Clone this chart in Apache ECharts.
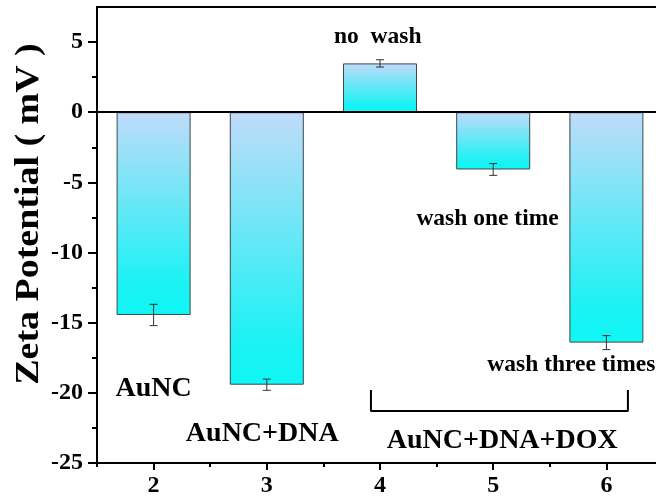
<!DOCTYPE html>
<html>
<head>
<meta charset="utf-8">
<script src="https://cdn.jsdelivr.net/npm/echarts@6/dist/echarts.min.js"></script>
<style>
html,body{margin:0;padding:0;background:#fff;}
#chart{width:656px;height:502px;}
</style>
</head>
<body>
<div id="chart"></div>
<script>
// ---- data ----
var categories = ['2', '3', '4', '5', '6'];
var zetaValues = [-14.45, -19.42, 3.48, -4.08, -16.42];
var zetaErrors = [0.76, 0.40, 0.26, 0.42, 0.50];
var yTickValues = [-25, -20, -15, -10, -5, 0, 5];
var yMinorTickValues = [-22.5, -17.5, -12.5, -7.5, -2.5, 2.5];
var yMin = -25, yMax = 7.5, yStep = 5;
var xMin = 1.5, xMax = 6.5;
var yAxisTitle = 'Zeta Potential ( mV )';
// condition annotations (small)
var condLabels = ['no  wash', 'wash one time', 'wash three times'];
var condX = [3.98, 4.95, 5.69];
var condY = [5.4, -7.6, -18.0];
// group annotations (large)
var groupLabels = ['AuNC', 'AuNC+DNA', 'AuNC+DNA+DOX'];
var groupX = [2.0, 2.96, 5.08];
var groupY = [-19.7, -22.9, -23.4];
// bracket under AuNC+DNA+DOX group
var bracketX = [3.92, 3.92, 6.19, 6.19];
var bracketY = [-19.8, -21.3, -21.3, -19.8];

var FONT = '"Liberation Serif", "Times New Roman", serif';

function pairs(xs, ys, names) {
  return xs.map(function (x, i) {
    var d = { value: [x, ys[i]] };
    if (names) d.name = names[i];
    return d;
  });
}

var chart = echarts.init(document.getElementById('chart'), null, { renderer: 'canvas' });

var textLabel = function (size) {
  return {
    show: true, position: 'inside', formatter: '{b}', opacity: 1,
    color: '#000', textBorderWidth: 0, fontFamily: FONT, fontWeight: 'bold', fontSize: size
  };
};

var option = {
  animation: false,
  backgroundColor: '#ffffff',
  grid: {
    left: 97, width: 566, top: 7, bottom: 39,
    outerBoundsMode: 'none', containLabel: false,
    show: true, borderColor: '#000', borderWidth: 2, backgroundColor: 'transparent'
  },
  xAxis: [
    {
      type: 'category', data: categories, position: 'bottom', boundaryGap: true,
      axisLine: { show: true, onZero: false, lineStyle: { color: '#000', width: 2 } },
      axisTick: { show: true, alignWithLabel: true, length: 7, lineStyle: { color: '#000', width: 2 } },
      axisLabel: { color: '#000', fontFamily: FONT, fontWeight: 'bold', fontSize: 24, margin: 11 },
      splitLine: { show: false }
    },
    {
      type: 'category', data: categories, position: 'bottom', boundaryGap: true,
      axisLine: { show: false, onZero: false },
      axisTick: { show: true, length: 4, lineStyle: { color: '#000', width: 2 } },
      axisLabel: { show: false },
      splitLine: { show: false }
    },
    {
      type: 'value', min: xMin, max: xMax, show: false, position: 'bottom'
    }
  ],
  yAxis: [
    {
      type: 'value', min: yMin, max: yMax, interval: yStep,
      axisLine: { show: true, onZero: false, lineStyle: { color: '#000', width: 2 } },
      axisTick: { show: true, length: 9, customValues: yTickValues, lineStyle: { color: '#000', width: 2 } },
      axisLabel: { customValues: yTickValues, color: '#000', fontFamily: FONT, fontWeight: 'bold', fontSize: 24, margin: 14 },
      splitLine: { show: false }
    },
    {
      type: 'value', min: yMin, max: yMax, interval: yStep, position: 'left',
      axisLine: { show: false, onZero: false },
      axisTick: { show: true, length: 5, customValues: yMinorTickValues, lineStyle: { color: '#000', width: 2 } },
      axisLabel: { show: false },
      splitLine: { show: false }
    }
  ],
  graphic: [
    {
      type: 'text', x: 29, y: 214, rotation: Math.PI / 2, scaleX: 1.15, scaleY: 1.0,
      style: {
        text: yAxisTitle, fill: '#000',
        font: 'bold 33px ' + FONT,
        textAlign: 'center', textVerticalAlign: 'middle'
      }
    }
  ],
  series: [
    {
      type: 'bar', xAxisIndex: 0, yAxisIndex: 0,
      data: zetaValues, barWidth: 74,
      itemStyle: {
        color: new echarts.graphic.LinearGradient(0, 0, 0, 1, [
          { offset: 0, color: '#c0dbf9' },
          { offset: 0.85, color: '#1af2f4' },
          { offset: 1, color: '#10f6f6' }
        ]),
        borderColor: '#3c4848', borderWidth: 1
      },
      markLine: {
        silent: true, symbol: 'none', label: { show: false },
        lineStyle: { color: '#000', width: 2, type: 'solid' },
        data: [{ yAxis: 0 }]
      },
      z: 2
    },
    {
      type: 'custom', xAxisIndex: 0, yAxisIndex: 0,
      data: zetaValues.map(function (v, i) { return [i, v, zetaErrors[i]]; }),
      renderItem: function (params, api) {
        var i = api.value(0), v = api.value(1), e = api.value(2);
        var lo = api.coord([i, v - e]);
        var hi = api.coord([i, v + e]);
        var hw = 4;
        var st = { stroke: '#333', lineWidth: 1, fill: null };
        return {
          type: 'group',
          children: [
            { type: 'line', shape: { x1: lo[0], y1: lo[1], x2: hi[0], y2: hi[1] }, style: st },
            { type: 'line', shape: { x1: lo[0] - hw, y1: lo[1], x2: lo[0] + hw, y2: lo[1] }, style: st },
            { type: 'line', shape: { x1: hi[0] - hw, y1: hi[1], x2: hi[0] + hw, y2: hi[1] }, style: st }
          ]
        };
      },
      z: 5
    },
    {
      type: 'line', xAxisIndex: 2, yAxisIndex: 0,
      data: bracketX.map(function (x, i) { return [x, bracketY[i]]; }),
      symbol: 'none', lineStyle: { color: '#000', width: 2 }, silent: true, z: 4
    },
    {
      type: 'scatter', xAxisIndex: 2, yAxisIndex: 0, symbolSize: 0, silent: true,
      itemStyle: { opacity: 1 },
      data: pairs(condX, condY, condLabels),
      label: textLabel(23.5),
      z: 6
    },
    {
      type: 'scatter', xAxisIndex: 2, yAxisIndex: 0, symbolSize: 0, silent: true,
      itemStyle: { opacity: 1 },
      data: pairs(groupX, groupY, groupLabels),
      label: textLabel(28),
      z: 6
    }
  ]
};
chart.setOption(option);
</script>
</body>
</html>
